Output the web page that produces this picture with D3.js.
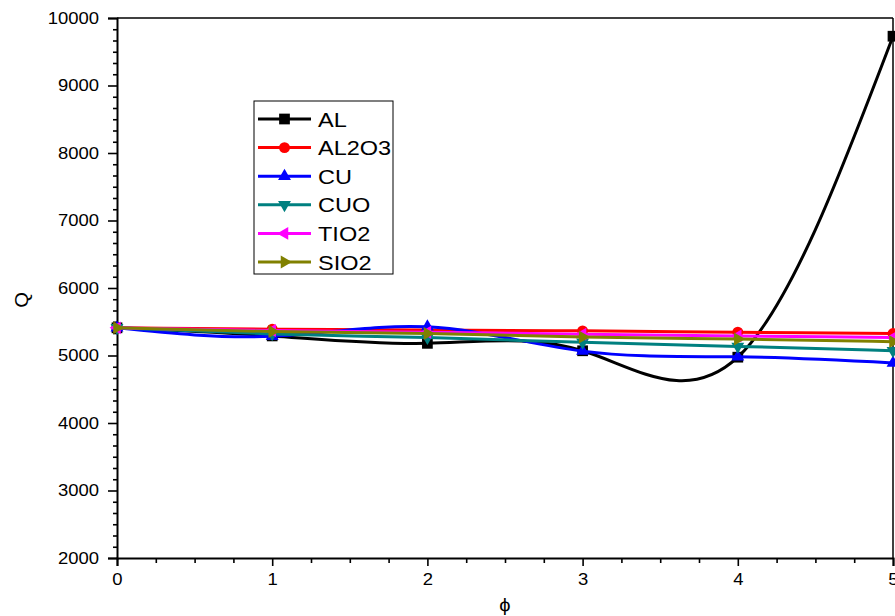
<!DOCTYPE html>
<html><head><meta charset="utf-8">
<script src="https://cdn.jsdelivr.net/npm/d3@7"></script>
<style>body{margin:0;background:#fff}svg{display:block}text{font-family:"Liberation Sans",Arial,sans-serif}</style>
</head><body><svg id="c" width="895" height="616"></svg>
<script>
const phi = [0, 1, 2, 3, 4, 5];
const seriesNames = ["AL", "AL2O3", "CU", "CUO", "TIO2", "SIO2"];
const AL    = [5410, 5290, 5180, 5070, 4975, 9730];
const AL2O3 = [5410, 5390, 5378, 5365, 5345, 5325];
const CU    = [5410, 5285, 5425, 5065, 4980, 4890];
const CUO   = [5410, 5320, 5265, 5195, 5135, 5070];
const TIO2  = [5410, 5370, 5345, 5315, 5290, 5265];
const SIO2  = [5410, 5355, 5325, 5275, 5245, 5205];
const xTicks = [0, 1, 2, 3, 4, 5];
const yTicks = [2000, 3000, 4000, 5000, 6000, 7000, 8000, 9000, 10000];

const colors = ["#000000", "#ff0000", "#0000ff", "#008080", "#ff00ff", "#808000"];
const symbols = ["square", "circle", "up", "down", "left", "right"];
const values = [AL, AL2O3, CU, CUO, TIO2, SIO2];

const SX = 1.12;
const svg = d3.select("#c");
const L = 117, R = 893, T = 18, B = 558;
const x = d3.scaleLinear().domain([0, 5]).range([L, R]);
const y = d3.scaleLinear().domain([2000, 10000]).range([B, T]);

// frame
svg.append("line").attr("x1", L).attr("x2", R).attr("y1", T).attr("y2", T).attr("stroke", "#000").attr("stroke-width", 1.5);
svg.append("line").attr("x1", R).attr("x2", R).attr("y1", T).attr("y2", B).attr("stroke", "#000").attr("stroke-width", 1.5);

// axes
const xMinor = d3.range(0, 5.001, 0.25).filter(v => Math.abs(v - Math.round(v)) > 1e-6);
const yMinor = [];
for (let i = 0; i < 8; i++) for (let j = 1; j < 6; j++) yMinor.push(2000 + i * 1000 + j * 1000 / 6);

const gx = svg.append("g").attr("transform", `translate(0,${B})`);
gx.call(d3.axisBottom(x).tickValues(xMinor).tickSize(5).tickFormat(""));
gx.call(g => g.selectAll(".domain").remove());
const gx2 = svg.append("g").attr("transform", `translate(0,${B})`)
  .call(d3.axisBottom(x).tickValues(xTicks).tickSize(8).tickPadding(7).tickFormat(d3.format("d")));
gx2.select(".domain").attr("stroke-width", 2);
gx2.selectAll("text").attr("font-size", 16.5).attr("fill", "#000").attr("transform", `scale(${SX},1)`);

const gy = svg.append("g").attr("transform", `translate(${L},0)`);
gy.call(d3.axisLeft(y).tickValues(yMinor).tickSize(4).tickFormat(""));
gy.call(g => g.selectAll(".domain").remove());
const gy2 = svg.append("g").attr("transform", `translate(${L},0)`)
  .call(d3.axisLeft(y).tickValues(yTicks).tickSize(9).tickPadding(9).tickFormat(d3.format("d")));
gy2.select(".domain").attr("stroke-width", 2);
gy2.selectAll("text").attr("font-size", 16.5).attr("fill", "#000").attr("x", -18 / SX).attr("transform", `scale(${SX},1)`);
svg.selectAll("g .tick line").attr("stroke-width", 1.6);

svg.append("text").attr("transform", `translate(505,611) scale(${SX},1)`).attr("text-anchor", "middle").attr("font-size", 18).text("ϕ");
svg.append("text").attr("transform", "translate(28,300) rotate(-90) scale(1.12,1)").attr("text-anchor", "middle").attr("font-size", 18).text("Q");

function marker(sel, kind, size) {
  const rot = {up: 0, down: 180, left: -90, right: 90};
  if (kind in rot) {
    sel.append("path").attr("d", d3.symbol(d3.symbolTriangle, size * size * 0.5)()).attr("transform", `rotate(${rot[kind]})`);
  } else if (kind === "square") {
    sel.append("path").attr("d", d3.symbol(d3.symbolSquare, size * size * 0.8)());
  } else {
    sel.append("path").attr("d", d3.symbol(d3.symbolCircle, size * size * 0.65)());
  }
}

const line = d3.line().x((d, i) => x(phi[i])).y(d => y(d)).curve(d3.curveNatural);
const plot = svg.append("g");
values.forEach((vals, k) => {
  plot.append("path").datum(vals).attr("d", line).attr("fill", "none").attr("stroke", colors[k]).attr("stroke-width", 3);
  vals.forEach((v, i) => {
    const g = plot.append("g").attr("transform", `translate(${x(phi[i])},${y(v)})`).attr("fill", colors[k]);
    marker(g, symbols[k], 12);
  });
});

// legend
const lg = svg.append("g");
lg.append("rect").attr("x", 254).attr("y", 101).attr("width", 139).attr("height", 173).attr("fill", "#fff").attr("stroke", "#000").attr("stroke-width", 1);
seriesNames.forEach((n, k) => {
  const yy = 119 + k * 28.6;
  lg.append("line").attr("x1", 258).attr("x2", 311).attr("y1", yy).attr("y2", yy).attr("stroke", colors[k]).attr("stroke-width", 3);
  const g = lg.append("g").attr("transform", `translate(284.5,${yy})`).attr("fill", colors[k]);
  marker(g, symbols[k], 12);
  lg.append("text").attr("transform", `translate(318,${yy + 7.5}) scale(${SX},1)`).attr("font-size", 21).attr("fill", "#000").text(n);
});
</script></body></html>
